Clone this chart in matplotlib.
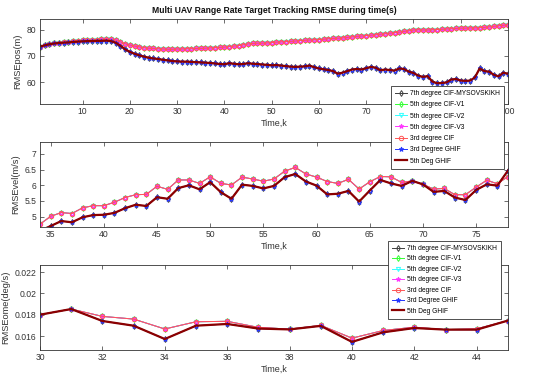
import matplotlib
matplotlib.use("Agg")
import matplotlib.pyplot as plt
import numpy as np

plt.rcParams['font.family'] = ['Liberation Sans', 'DejaVu Sans']

# ---------------- data ----------------
k_pos = list(range(1, 101))
pos_low = [73.5, 74.0, 74.4, 74.7, 74.9, 75.0, 75.1, 75.3, 75.4, 75.5,
           75.6, 75.6, 75.7, 75.7, 75.8, 75.6, 75.0, 73.8, 72.5, 71.5,
           70.8, 70.2, 69.7, 69.3, 69.0, 68.8, 68.5, 68.3, 68.0, 67.9,
           67.8, 67.8, 67.7, 67.6, 67.5, 67.4, 67.3, 67.1, 66.9, 66.8,
           67.2, 67.0, 66.8, 66.9, 67.2, 67.0, 66.9, 66.7, 66.6, 66.4,
           66.5, 66.3, 66.1, 65.9, 65.8, 65.9, 66.0, 66.3, 65.7, 65.2,
           64.9, 64.6, 64.2, 63.2, 63.6, 64.2, 64.8, 65.0, 64.8, 65.3,
           65.8, 65.5, 64.5, 64.8, 64.6, 64.4, 65.2, 65.0, 64.0, 63.5,
           62.5, 62.0, 62.3, 60.2, 59.6, 59.7, 59.9, 61.0, 61.2, 60.6,
           60.5, 60.6, 61.8, 65.2, 64.2, 64.0, 62.8, 62.2, 63.6, 63.2]
pos_high = [73.5, 74.0, 74.4, 74.8, 75.0, 75.2, 75.4, 75.6, 75.8, 75.9,
            76.0, 76.1, 76.2, 76.3, 76.4, 76.3, 76.0, 75.3, 74.6, 74.1,
            73.7, 73.4, 73.1, 72.9, 72.8, 72.7, 72.6, 72.5, 72.5, 72.6,
            72.6, 72.7, 72.7, 72.8, 72.8, 72.9, 73.0, 73.1, 73.2, 73.3,
            73.5, 73.7, 73.9, 74.2, 74.5, 74.7, 74.8, 74.8, 74.9, 75.0,
            75.2, 75.3, 75.4, 75.5, 75.6, 75.8, 75.9, 76.0, 76.1, 76.2,
            76.3, 76.5, 76.6, 76.7, 76.8, 77.0, 77.2, 77.4, 77.5, 77.7,
            77.8, 78.0, 78.2, 78.4, 78.6, 78.8, 79.0, 79.3, 79.5, 79.8,
            79.9, 79.8, 79.8, 79.9, 80.0, 80.1, 80.2, 80.3, 80.4, 80.5,
            80.5, 80.6, 80.6, 80.7, 80.8, 81.0, 81.2, 81.4, 81.6, 81.8]

k_vel = list(range(34, 79))
vel_high = [4.76, 5.01, 5.13, 5.10, 5.28, 5.35, 5.35, 5.46, 5.61, 5.70,
            5.71, 5.97, 5.87, 6.17, 6.17, 6.06, 6.27, 6.06, 6.01, 6.26,
            6.20, 6.13, 6.20, 6.45, 6.57, 6.36, 6.26, 6.12, 6.06, 6.19,
            5.88, 6.11, 6.28, 6.27, 6.09, 6.14, 6.03, 5.88, 5.90, 5.70,
            5.70, 5.94, 6.16, 6.05, 6.28]
vel_low = [4.55, 4.70, 4.86, 4.82, 4.98, 5.05, 5.06, 5.12, 5.27, 5.38,
           5.34, 5.62, 5.57, 5.91, 6.00, 5.87, 6.10, 5.78, 5.57, 6.02,
           5.98, 5.90, 5.98, 6.26, 6.36, 6.12, 5.99, 5.71, 5.73, 5.82,
           5.48, 5.83, 6.17, 6.06, 5.98, 6.14, 6.03, 5.79, 5.82, 5.61,
           5.53, 5.85, 6.03, 5.99, 6.47]

k_ome = list(range(30, 46))
ome_high = [0.01800, 0.01853, 0.01784, 0.01759, 0.01666, 0.01734, 0.01738, 0.01681,
            0.01665, 0.01700, 0.01580, 0.01652, 0.01683, 0.01660, 0.01668, 0.01745]
ome_low = [0.01800, 0.01853, 0.01741, 0.01697, 0.01572, 0.01697, 0.01713, 0.01670,
           0.01662, 0.01695, 0.01545, 0.01635, 0.01675, 0.01660, 0.01660, 0.01745]

labels = ['7th degree CIF-MYSOVSKIKH', '5th degree CIF-V1', '5th degree CIF-V2',
          '5th degree CIF-V3', '3rd degree CIF', '3rd Degree GHIF', '5th Deg GHIF']
groups = ['low', 'high', 'high', 'high', 'high', 'low', 'low']

styles = [
    dict(color='#404040', marker='d', mfc='none', lw=0.7, ms=3, mew=0.7),
    dict(color='#33ff33', marker='d', mfc='none', lw=0.7, ms=3, mew=0.7),
    dict(color='#33ffff', marker='v', mfc='none', lw=0.7, ms=3, mew=0.7),
    dict(color='#ff33ff', marker='*', mfc='none', lw=0.7, ms=3.5, mew=0.7),
    dict(color='#ff5555', marker='o', mfc='none', lw=0.7, ms=3.2, mew=0.7),
    dict(color='#2233ff', marker='*', mfc='none', lw=0.7, ms=3.5, mew=0.7),
    dict(color='#8b0000', marker=None, lw=1.6),
]

fig = plt.figure(figsize=(5.5, 3.81), dpi=100)
L, W, H = 40/550, 468/550, 85/381
ax1 = fig.add_axes([L, 1-104/381, W, H])
ax2 = fig.add_axes([L, 1-227/381, W, H])
ax3 = fig.add_axes([L, 1-350/381, W, H])

def draw(ax, x, low, high):
    hs = []
    for lab, g, st in zip(labels, groups, styles):
        y = low if g == 'low' else high
        h, = ax.plot(x, y, label=lab, **st)
        hs.append(h)
    return hs

hs = draw(ax1, k_pos, pos_low, pos_high)
draw(ax2, k_vel, vel_low, vel_high)
draw(ax3, k_ome, ome_low, ome_high)

ax1.set_xlim(1, 100); ax1.set_ylim(51.7, 84.0)
ax1.set_xticks(range(10, 101, 10)); ax1.set_yticks([60, 70, 80])
# 80 and 90 are hidden behind the legend in the reference
ax1.set_xticklabels(['10', '20', '30', '40', '50', '60', '70', '', '', '100'])
ax2.set_xlim(34, 78); ax2.set_ylim(4.67, 7.38)
ax2.set_xticks(range(35, 80, 5)); ax2.set_yticks([5, 5.5, 6, 6.5, 7])
ax2.set_yticklabels(['5', '5.5', '6', '6.5', '7'])
ax3.set_xlim(30, 45); ax3.set_ylim(0.01469, 0.02266)
ax3.set_xticks(range(30, 45, 2)); ax3.set_yticks([0.016, 0.018, 0.020, 0.022])
ax3.set_yticklabels(['0.016', '0.018', '0.02', '0.022'])

ylabs = ['RMSEpos(m)', 'RMSEvel(m/s)', 'RMSEome(deg/s)']
for ax, yl in zip([ax1, ax2, ax3], ylabs):
    ax.tick_params(direction='in', top=True, right=True, length=3, width=0.5,
                   labelsize=6.2, colors='#333333', pad=2.5)
    for s in ax.spines.values():
        s.set_linewidth(0.6); s.set_color('#333333')
    ax.set_xlabel('Time,k', fontsize=6.5, color='#333333', labelpad=2)
    ax.set_ylabel(yl, fontsize=6.7, color='#333333', labelpad=3)

ax1.set_title('Multi UAV Range Rate Target Tracking RMSE during time(s)',
              fontsize=6.2, fontweight='bold', pad=4, color='#111111')

leg_kw = dict(loc='upper left', bbox_transform=fig.transFigure, fontsize=4.8,
              handlelength=1.8, handletextpad=0.4, borderpad=0.6, borderaxespad=0,
              fancybox=False, edgecolor='#333333', framealpha=1)
l1 = fig.legend(hs, labels, bbox_to_anchor=(391/550, 1-86/381), labelspacing=0.64, **leg_kw)
l2 = fig.legend(hs, labels, bbox_to_anchor=(388/550, 1-241/381), labelspacing=0.52, **leg_kw)
for l in (l1, l2):
    l.get_frame().set_linewidth(0.6)

fig.savefig('out.png', dpi=100)
